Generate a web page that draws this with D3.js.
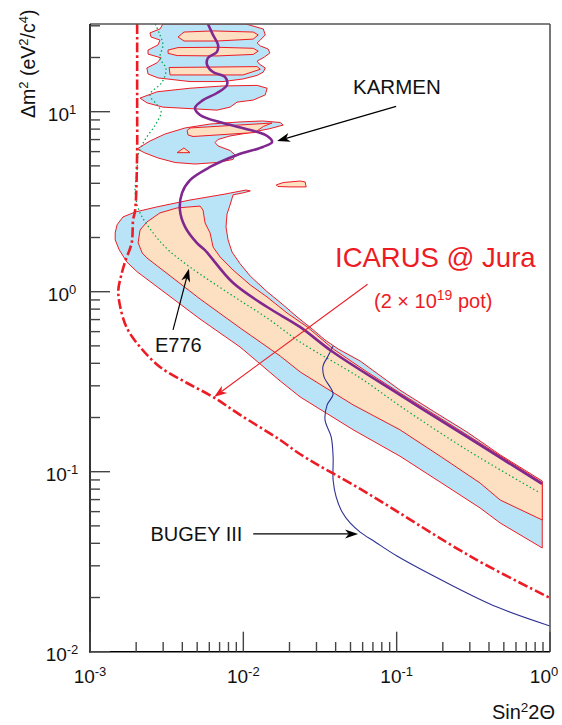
<!DOCTYPE html>
<html>
<head>
<meta charset="utf-8">
<script src="https://cdn.jsdelivr.net/npm/d3@7"></script>
<style>
  body { margin: 0; background: #fff; }
  text { font-family: "Liberation Sans", Arial, Helvetica, sans-serif; }
</style>
</head>
<body>
<svg id="chart" width="562" height="725"></svg>
<script>
// ---------- data: [sin^2 2θ, Δm^2 (eV^2/c^4)] ----------

// allowed regions, 90% (outer, blue)
const bandOuter = [
  [0.00146,2.12],[0.00150,2.35],[0.00164,2.60],[0.00197,2.77],[0.00274,2.96],[0.00449,3.23],
  [0.00737,3.47],[0.0104,3.67],[0.0111,3.63],[0.00996,3.54],[0.00857,3.45],[0.00819,3.03],
  [0.00783,2.70],[0.00771,2.29],[0.00795,1.94],[0.00844,1.66],[0.00952,1.43],[0.0111,1.22],
  [0.0141,1.01],[0.0182,0.844],[0.0224,0.724],[0.0281,0.621],[0.0341,0.539],[0.0415,0.481],
  [0.0578,0.412],[0.105,0.284],[0.173,0.217],[0.288,0.166],[0.473,0.124],[0.89,0.0888],
  [0.89,0.0377],[0.473,0.0519],[0.350,0.0629],[0.192,0.0876],[0.105,0.122],[0.052,0.171],
  [0.0235,0.26],[0.0174,0.319],[0.00952,0.493],[0.00522,0.705],[0.00203,1.29],[0.00174,1.46],
  [0.00155,1.71],[0.00146,1.94]
];
const islandTop = [
  [0.00299,30.7],[0.00286,28.8],[0.00246,27.4],[0.0025,26.0],[0.00286,25.0],[0.00278,23.5],
  [0.00239,22.0],[0.00239,20.9],[0.00291,19.9],[0.00274,18.7],[0.00235,17.5],[0.00239,16.2],
  [0.00278,15.4],[0.00449,14.7],[0.00737,14.7],[0.00996,15.2],[0.0123,15.9],[0.0135,16.6],
  [0.0139,17.5],[0.0127,18.4],[0.0123,19.1],[0.0137,20.1],[0.0149,21.2],[0.0145,22.3],
  [0.0129,23.2],[0.0123,24.1],[0.0129,25.0],[0.0139,26.7],[0.0135,28.8],[0.0104,30.7]
];
const islandMid = [
  [0.00212,11.9],[0.00274,12.9],[0.00449,13.5],[0.00737,13.9],[0.0123,14.0],[0.0143,13.5],
  [0.0139,12.4],[0.0116,11.6],[0.0091,11.3],[0.00819,10.6],[0.00674,10.2],[0.00449,10.4],
  [0.00299,10.6],[0.00235,11.2]
];
const islandLow = [
  [0.00203,6.21],[0.00246,6.87],[0.00309,7.52],[0.00417,8.12],[0.00607,8.54],[0.00952,8.77],
  [0.0133,8.88],[0.0174,8.71],[0.0182,8.43],[0.0149,8.05],[0.0111,7.66],[0.00819,7.33],
  [0.00684,7.01],[0.00654,6.74],[0.00684,6.45],[0.00819,6.09],[0.00883,5.75],[0.00857,5.43],
  [0.00674,5.22],[0.00484,5.12],[0.00359,5.22],[0.00278,5.53],[0.00228,5.90]
];

// allowed regions, 99% (inner, peach)
const bandInner = [
  [0.00206,1.87],[0.00212,2.20],[0.00235,2.44],[0.00286,2.74],[0.0037,2.92],[0.00522,2.99],
  [0.00546,2.84],[0.00563,2.41],[0.00607,2.12],[0.00635,1.77],[0.00705,1.56],[0.00857,1.32],
  [0.0111,1.09],[0.0143,0.934],[0.0193,0.761],[0.0261,0.637],[0.0385,0.481],[0.0642,0.358],
  [0.105,0.274],[0.288,0.160],[0.89,0.0871],[0.89,0.0539],[0.473,0.0696],[0.350,0.0865],
  [0.192,0.122],[0.105,0.171],[0.052,0.235],[0.0235,0.358],[0.0174,0.439],[0.00952,0.629],
  [0.00522,0.911],[0.00235,1.54],[0.00219,1.64]
];
const stripA = [[0.00375,26.0],[0.0041,27.7],[0.00635,28.1],[0.0116,27.7],[0.0125,26.7],[0.0116,25.3],[0.00674,24.7],[0.0041,24.7]];
const stripB = [[0.00323,22.0],[0.00375,22.7],[0.00674,22.8],[0.0116,22.5],[0.0125,21.7],[0.0116,20.8],[0.00674,20.4],[0.0037,20.5],[0.00323,21.1]];
const stripC = [[0.00328,17.6],[0.0123,17.8],[0.0129,17.2],[0.00996,16.0],[0.00333,16.0]];
const stripD = [[0.0043,7.86],[0.00449,8.12],[0.0154,8.65],[0.0135,8.28],[0.0119,7.66],[0.0047,7.28],[0.00436,7.42]];
const speckA = [[0.0037,5.92],[0.0041,6.29],[0.00449,5.92]];
const speckB = [[0.0164,3.92],[0.0182,4.04],[0.0235,4.12],[0.0253,4.07],[0.0257,3.82],[0.0202,3.82],[0.0168,3.84]];

// exclusion curves
const karmen = [
  [0.00588,30.7],[0.00634,26.7],[0.00684,23.5],[0.00673,21.5],[0.00588,19.9],[0.00580,18.2],
  [0.00634,16.6],[0.00759,15.6],[0.00783,14.1],[0.00673,12.7],[0.00546,11.6],[0.00484,10.5],
  [0.00522,9.59],[0.00737,8.65],[0.0111,7.91],[0.0143,7.33],[0.0154,6.79],[0.0134,6.37],
  [0.00909,5.75],[0.00607,4.93],[0.00449,4.17],[0.00398,3.53],[0.00386,2.84],[0.00417,2.29],
  [0.00499,1.86],[0.00562,1.70],[0.00856,1.12],[0.0143,0.822],[0.0234,0.637],[0.0384,0.462],
  [0.105,0.267],[0.288,0.156],[0.887,0.0855]
];
const e776 = [
  [0.00266,30.7],[0.00286,26.7],[0.00299,23.5],[0.00286,19.9],[0.00313,17.3],[0.00295,14.6],
  [0.00246,12.4],[0.00274,10.9],[0.00291,9.96],[0.00269,8.54],[0.00228,6.96],[0.00206,5.75],
  [0.00203,4.74],[0.00197,3.54],[0.00212,2.74],[0.00258,2.12],[0.00323,1.71],[0.00449,1.37],
  [0.00857,0.946],[0.0143,0.714],[0.0235,0.525],[0.0578,0.332],[0.105,0.232],[0.288,0.132],
  [0.863,0.0761]
];
const bugey = [
  [0.0385,0.499],[0.0357,0.439],[0.0331,0.387],[0.0336,0.336],[0.0385,0.270],[0.0352,0.235],
  [0.0341,0.194],[0.0374,0.156],[0.0385,0.121],[0.0385,0.0899],[0.0403,0.0724],[0.0441,0.0597],
  [0.0497,0.0519],[0.0578,0.0462],[0.0724,0.0407],[0.1005,0.034],[0.2135,0.0241],[0.452,0.0177],
  [1.0,0.0139]
];
const icarus = [
  [0.00203,30.7],[0.00203,10.2],[0.00203,6.13],[0.00197,2.84],[0.00191,2.50],[0.00187,1.87],
  [0.00169,1.46],[0.00159,1.21],[0.00153,1.02],[0.00157,0.833],[0.00174,0.629],[0.00212,0.493],
  [0.00286,0.382],[0.00429,0.311],[0.00635,0.260],[0.00952,0.207],[0.0174,0.150],[0.0235,0.125],
  [0.0642,0.0761],[0.315,0.0332],[1.0,0.0199]
];

// annotation arrows: [from, to]
const karmenArrow = [[0.0992,10.7],[0.0166,6.87]];
const e776Arrow   = [[0.00348,0.613],[0.00442,1.34]];
const bugeyArrow  = [[0.0116,0.0451],[0.056,0.0451]];
const icarusArrow = [[0.0646,1.10],[0.00644,0.26]];

// axis ticks
const xTickExps = [-3,-2,-1,0];
const yTickExps = [-2,-1,0,1];

// ---------- drawing ----------
const svg = d3.select("#chart");
const x = d3.scaleLog().domain([1e-3, 1]).range([90, 550]);
const y = d3.scaleLog().domain([0.01, 30.7]).range([651.7, 24]);

const RED = "#ed1c24", BLUE = "#b9e3f7", PEACH = "#fde0c1";

svg.append("defs").append("clipPath").attr("id", "plotArea")
  .append("rect").attr("x", 90).attr("y", 24).attr("width", 460).attr("height", 627.7);

const g = svg.append("g").attr("clip-path", "url(#plotArea)");

const closed = d3.line().x(d => x(d[0])).y(d => y(d[1])).curve(d3.curveLinearClosed);
const smooth = d3.line().x(d => x(d[0])).y(d => y(d[1])).curve(d3.curveCatmullRom.alpha(0.5));

[bandOuter, islandTop, islandMid, islandLow].forEach(p =>
  g.append("path").attr("d", closed(p)).attr("fill", BLUE).attr("stroke", RED).attr("stroke-width", 1));
[bandInner, stripA, stripB, stripC, stripD, speckA, speckB].forEach(p =>
  g.append("path").attr("d", closed(p)).attr("fill", PEACH).attr("stroke", RED).attr("stroke-width", 1));

g.append("path").attr("d", smooth(e776)).attr("fill", "none")
  .attr("stroke", "#00a651").attr("stroke-width", 1.3).attr("stroke-dasharray", "1.4,2.6");
g.append("path").attr("d", smooth(bugey)).attr("fill", "none")
  .attr("stroke", "#2e3192").attr("stroke-width", 1.1);
g.append("path").attr("d", smooth(icarus)).attr("fill", "none")
  .attr("stroke", RED).attr("stroke-width", 2.6).attr("stroke-dasharray", "10,3,2.5,3");
g.append("path").attr("d", smooth(karmen)).attr("fill", "none")
  .attr("stroke", "#80288f").attr("stroke-width", 2.6);

// arrows
function arrow(pair, color, width, len, half) {
  const [a, b] = pair;
  const x0 = x(a[0]), y0 = y(a[1]), x1 = x(b[0]), y1 = y(b[1]);
  const ang = Math.atan2(y1 - y0, x1 - x0);
  const ux = Math.cos(ang), uy = Math.sin(ang), nx = -uy, ny = ux;
  const bx = x1 - ux * len, by = y1 - uy * len;
  const notch = len * 0.72;
  svg.append("line").attr("x1", x0).attr("y1", y0)
    .attr("x2", x1 - ux * notch).attr("y2", y1 - uy * notch)
    .attr("stroke", color).attr("stroke-width", width);
  svg.append("path")
    .attr("d", `M${x1},${y1}L${bx + nx * half},${by + ny * half}L${x1 - ux * notch},${y1 - uy * notch}L${bx - nx * half},${by - ny * half}Z`)
    .attr("fill", color);
}
arrow(karmenArrow, "#000", 1.2, 13, 4.5);
arrow(e776Arrow, "#000", 1.2, 13, 4.5);
arrow(bugeyArrow, "#000", 1.2, 13, 4.5);
arrow(icarusArrow, RED, 1.1, 13, 4.5);

// frame
svg.append("line").attr("x1", 90).attr("y1", 24).attr("x2", 550).attr("y2", 24).attr("stroke", "#555").attr("stroke-width", 1.6);
svg.append("line").attr("x1", 550).attr("y1", 24).attr("x2", 550).attr("y2", 651.7).attr("stroke", "#555").attr("stroke-width", 1.6);
svg.append("line").attr("x1", 90).attr("y1", 24).attr("x2", 90).attr("y2", 652.5).attr("stroke", "#000").attr("stroke-width", 1.6);
svg.append("line").attr("x1", 89.2).attr("y1", 651.7).attr("x2", 550).attr("y2", 651.7).attr("stroke", "#000").attr("stroke-width", 1.6);

// ticks (inward)
const yMinor = [], xMinor = [];
yTickExps.forEach(e => { for (let m = 2; m <= 9; m++) { const v = m * Math.pow(10, e); if (v <= 30.7) yMinor.push(v); } });
xTickExps.slice(0, -1).forEach(e => { for (let m = 2; m <= 9; m++) xMinor.push(m * Math.pow(10, e)); });
const ticks = svg.append("g").attr("stroke", "#444").attr("stroke-width", 1.4);
yMinor.forEach(v => ticks.append("line").attr("x1", 90).attr("x2", 100).attr("y1", y(v)).attr("y2", y(v)));
yTickExps.forEach(e => ticks.append("line").attr("x1", 90).attr("x2", 110).attr("y1", y(Math.pow(10, e))).attr("y2", y(Math.pow(10, e))));
xMinor.forEach(v => ticks.append("line").attr("y1", 651.7).attr("y2", 642).attr("x1", x(v)).attr("x2", x(v)));
xTickExps.forEach(e => ticks.append("line").attr("y1", 651.7).attr("y2", 631.7).attr("x1", x(Math.pow(10, e))).attr("x2", x(Math.pow(10, e))));

// tick labels
function powLabel(tx, ty, exp, anchor) {
  const t = svg.append("text").attr("x", tx).attr("y", ty).attr("text-anchor", anchor)
    .attr("font-size", 19).attr("fill", "#111");
  t.append("tspan").text("10");
  t.append("tspan").attr("dy", -7.5).attr("font-size", 13).text(exp < 0 ? "-" + (-exp) : String(exp));
}
yTickExps.forEach(e => powLabel(62, y(Math.pow(10, e)) + 9.5, e, "middle"));
xTickExps.forEach(e => powLabel(Math.min(x(Math.pow(10, e)), 544), 683, e, "middle"));

// axis titles
const yt = svg.append("text").attr("transform", "translate(35,118) rotate(-90)")
  .attr("font-size", 19.5).attr("fill", "#111");
yt.append("tspan").text("\u0394m");
yt.append("tspan").attr("dy", -7).attr("font-size", 13).text("2");
yt.append("tspan").attr("dy", 7).text(" (eV");
yt.append("tspan").attr("dy", -7).attr("font-size", 13).text("2");
yt.append("tspan").attr("dy", 7).text("/c");
yt.append("tspan").attr("dy", -7).attr("font-size", 13).text("4");
yt.append("tspan").attr("dy", 7).text(")");

const xt = svg.append("text").attr("x", 555).attr("y", 719).attr("text-anchor", "end")
  .attr("font-size", 20).attr("fill", "#111");
xt.append("tspan").text("Sin");
xt.append("tspan").attr("dy", -7.5).attr("font-size", 13.5).text("2");
xt.append("tspan").attr("dy", 7.5).text("2\u0398");

// annotations
svg.append("text").attr("x", 353).attr("y", 94).attr("font-size", 20.5).attr("fill", "#111").text("KARMEN");
svg.append("text").attr("x", 155).attr("y", 352).attr("font-size", 20).attr("fill", "#111").text("E776");
svg.append("text").attr("x", 150.5).attr("y", 541).attr("font-size", 20).attr("fill", "#111").text("BUGEY III");
svg.append("text").attr("x", 335).attr("y", 266.5).attr("font-size", 27.5).attr("fill", RED).text("ICARUS @ Jura");
const pot = svg.append("text").attr("x", 374).attr("y", 308).attr("font-size", 20).attr("fill", RED);
pot.append("tspan").text("(2 \u00d7 10");
pot.append("tspan").attr("dy", -8.5).attr("font-size", 14).text("19");
pot.append("tspan").attr("dy", 8.5).text(" pot)");
</script>
</body>
</html>
